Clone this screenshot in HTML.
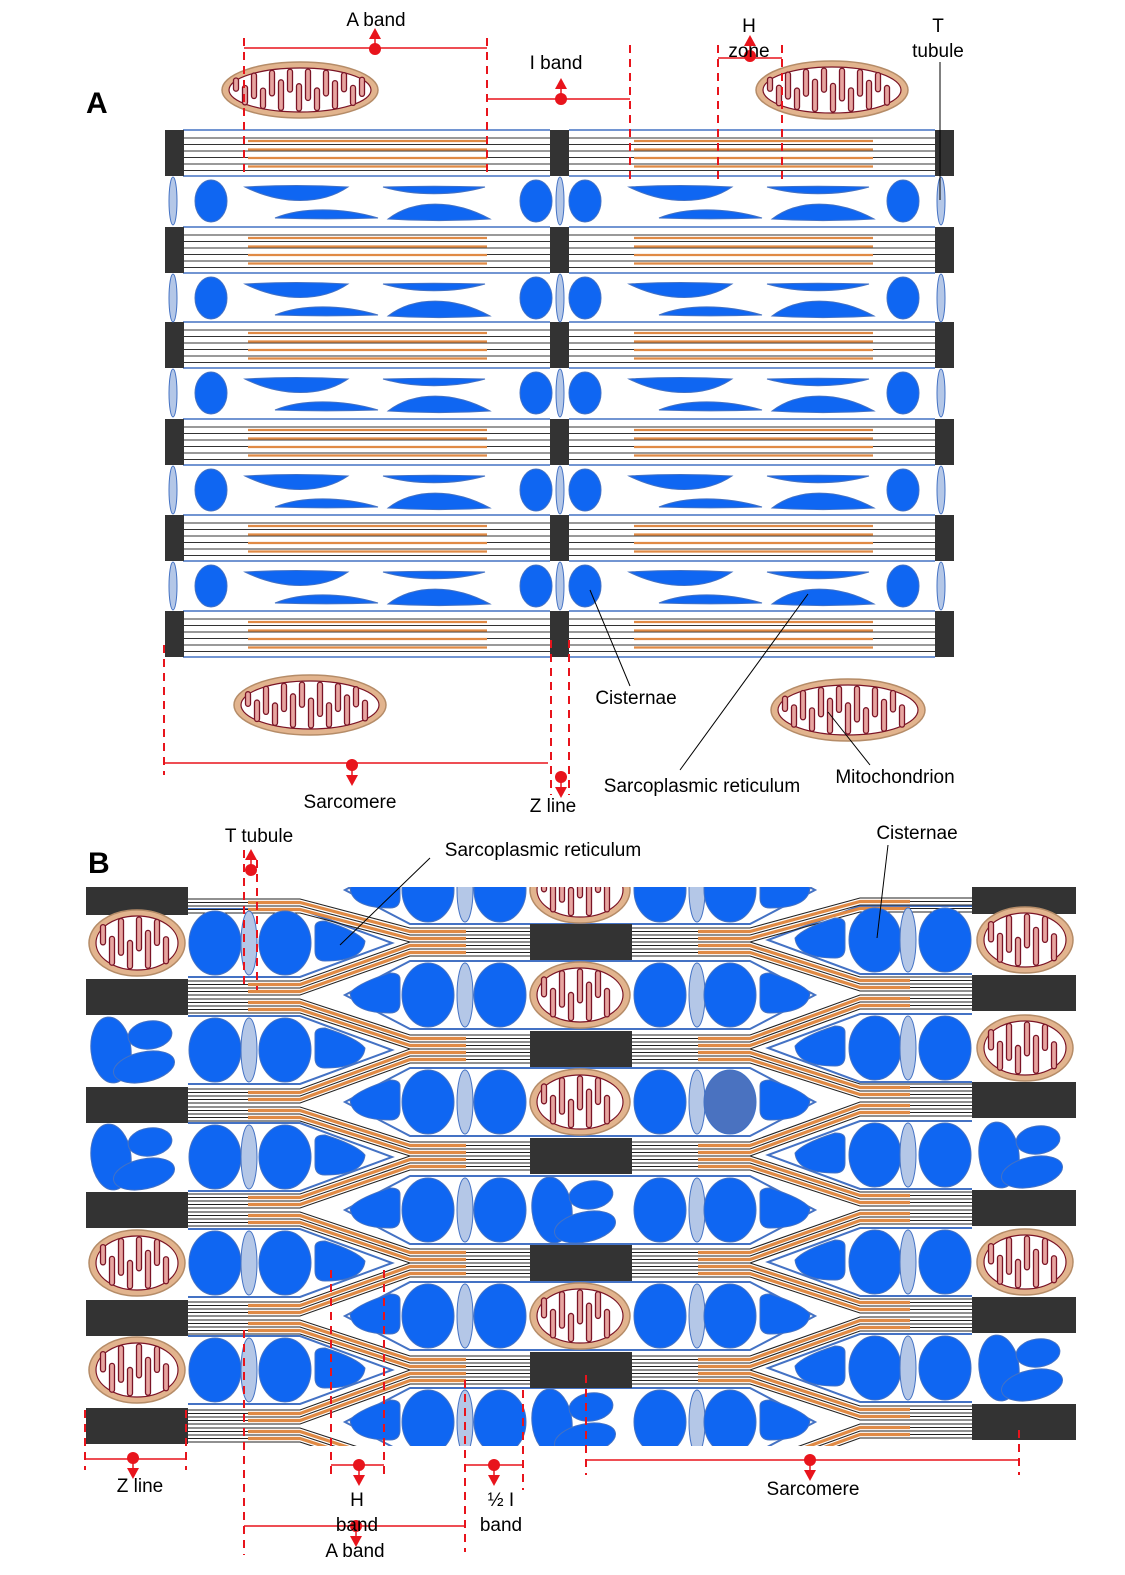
<!DOCTYPE html>
<html><head><meta charset="utf-8"><style>
html,body{margin:0;padding:0;background:#fff;}
svg{display:block;}
text{font-family:"Liberation Sans",sans-serif;font-size:19px;fill:#000;}
</style></head><body>
<svg id="s" xmlns="http://www.w3.org/2000/svg" width="1125" height="1575" viewBox="0 0 1125 1575">
<defs>
<clipPath id="cb"><rect x="86" y="887" width="990" height="559"/></clipPath>
<clipPath id="orL"><rect x="248" y="850" width="218" height="620"/></clipPath>
<clipPath id="orR"><rect x="698" y="850" width="212" height="620"/></clipPath>
</defs>
<g id="A"></g>
<g id="B" clip-path="url(#cb)"></g>
<g id="ann"></g>
<text x="86" y="113" style="font-size:30px;font-weight:bold">A</text>
<text x="88" y="873" style="font-size:30px;font-weight:bold">B</text>
<text x="376" y="26" text-anchor="middle">A band</text>
<text x="556" y="69" text-anchor="middle">I band</text>
<text x="749" y="32" text-anchor="middle">H</text>
<text x="749" y="57" text-anchor="middle">zone</text>
<text x="938" y="32" text-anchor="middle">T</text>
<text x="938" y="57" text-anchor="middle">tubule</text>
<text x="350" y="808" text-anchor="middle">Sarcomere</text>
<text x="553" y="812" text-anchor="middle">Z line</text>
<text x="636" y="704" text-anchor="middle">Cisternae</text>
<text x="702" y="792" text-anchor="middle">Sarcoplasmic reticulum</text>
<text x="895" y="783" text-anchor="middle">Mitochondrion</text>
<text x="259" y="842" text-anchor="middle">T tubule</text>
<text x="543" y="856" text-anchor="middle">Sarcoplasmic reticulum</text>
<text x="917" y="839" text-anchor="middle">Cisternae</text>
<text x="140" y="1492" text-anchor="middle">Z line</text>
<text x="357" y="1506" text-anchor="middle">H</text>
<text x="357" y="1531" text-anchor="middle">band</text>
<text x="355" y="1557" text-anchor="middle">A band</text>
<text x="501" y="1506" text-anchor="middle">½ I</text>
<text x="501" y="1531" text-anchor="middle">band</text>
<text x="813" y="1495" text-anchor="middle">Sarcomere</text>
</svg>
<script>
var NS="http://www.w3.org/2000/svg";
function el(p,t,a){var e=document.createElementNS(NS,t);for(var k in a)e.setAttribute(k,a[k]);p.appendChild(e);return e;}
var A=document.getElementById('A'),B=document.getElementById('B'),N=document.getElementById('ann');
var BLUE="#0f66f2",PALE="#b4c7e7",OUT="#4472c4",OR="#e08a45";
function mito(g,cx,cy,rx,ry){
 el(g,'ellipse',{cx:cx,cy:cy,rx:rx,ry:ry,fill:'#e2b48e',stroke:'#b58c68','stroke-width':1.5});
 el(g,'ellipse',{cx:cx,cy:cy,rx:rx-7,ry:ry-6,fill:'#fff',stroke:'#7a1426','stroke-width':1.2});
 var n=Math.floor((2*rx-20)/9);
 for(var i=0;i<n;i++){
  var x=cx-rx+14+i*9; var dx=(x-cx)/rx; var h=(ry-7)*Math.sqrt(Math.max(0,1-dx*dx));
  var top=(i%2==0); var len=h*(1.1+0.4*((i*7)%3)/2);
  var y1=top?cy-h:cy+h-len, y2=top?cy-h+len:cy+h;
  el(g,'rect',{x:x-2.5,y:y1,width:5,height:Math.max(2,y2-y1),rx:2.5,fill:'#e7a5a0',stroke:'#7a1426','stroke-width':1.3});
 }
}
function ell(g,cx,cy,rx,ry,f){el(g,'ellipse',{cx:cx,cy:cy,rx:rx,ry:ry,fill:f||BLUE,stroke:OUT,'stroke-width':1});}
function pale(g,cx,cy,rx,ry){el(g,'ellipse',{cx:cx,cy:cy,rx:rx,ry:ry,fill:PALE,stroke:OUT,'stroke-width':1});}
function spindle(g,x1,x2,y,b,pk){
 var m=x1+(x2-x1)*(pk||0.5);
 el(g,'path',{d:'M'+x1+','+y+' Q'+((x1+x2)/2)+','+(y-b*0.15)+' '+x2+','+y+' C'+(m+20)+','+(y+b*0.9)+' '+(m-20)+','+(y+b*0.9)+' '+x1+','+y+'Z',fill:BLUE,stroke:OUT,'stroke-width':1});
}
var tops=[130,227,322,419,515,611];
tops.forEach(function(t){
 [[183,550],[569,935]].forEach(function(r){
  for(var i=0;i<6;i++){var y=t+8+i*6.5;el(A,'line',{x1:r[0],y1:y,x2:r[1],y2:y,stroke:'#333','stroke-width':1.1});}
  var o1=r[0]+65;
  for(var i=0;i<4;i++){var y=t+11+i*8.5;el(A,'line',{x1:o1,y1:y,x2:o1+239,y2:y,stroke:OR,'stroke-width':2.2});}
  el(A,'line',{x1:r[0],y1:t,x2:r[1],y2:t,stroke:OUT,'stroke-width':1.5});
  el(A,'line',{x1:r[0],y1:t+46,x2:r[1],y2:t+46,stroke:OUT,'stroke-width':1.5});
 });
 [165,550,935].forEach(function(x){el(A,'rect',{x:x,y:t,width:19,height:46,fill:'#333'});});
});
for(var k=0;k<5;k++){
 var yc=tops[k]+71;
 pale(A,173,yc,4,24);ell(A,211,yc,16,21);
 ell(A,536,yc,16,21);pale(A,560,yc,4,24);ell(A,585,yc,16,21);
 ell(A,903,yc,16,21);pale(A,941,yc,4,24);
 [0,384].forEach(function(o){
  spindle(A,245+o,348+o,yc-14,20,0.55);
  spindle(A,275+o,378+o,yc+17,-12,0.45);
  spindle(A,383+o,485+o,yc-14,10,0.5);
  spindle(A,388+o,490+o,yc+18,-22,0.45);
 });
}
mito(A,300,90,78,28);mito(A,832,90,76,29);mito(A,310,705,76,30);mito(A,848,710,77,31);
var yL=[897,997,1105,1210,1318,1426],yM=[836,942,1049,1156,1263,1370,1478],yR=[896,993,1100,1208,1315,1422];
function bundle(side,yz,ym,up){
 var s=up?-1:1;
 for(var i=0;i<5;i++){
  var o=2+i*3.5, a=yz+s*o, b=ym-s*(16-o);
  var pts=side=='L'?[[188,a],[300,a],[410,b],[530,b]]:[[972,a],[860,a],[750,b],[632,b]];
  var p=pts.map(function(q){return q.join(',');}).join(' ');
  el(B,'polyline',{points:p,fill:'none',stroke:'#222','stroke-width':1.1});
  if(i%2==1){el(B,'polyline',{points:p,fill:'none',stroke:OR,'stroke-width':3.2,'clip-path':'url(#or'+side+')'});}
 }
}
function rel(g,cx,cy,rx,ry,rot){el(g,'ellipse',{cx:cx,cy:cy,rx:rx,ry:ry,transform:'rotate('+rot+' '+cx+' '+cy+')',fill:BLUE,stroke:OUT,'stroke-width':1});}
function cluster(g,cx,cy){
 rel(g,cx-26,cy,20,33,-6);
 rel(g,cx+13,cy-15,22,14,-8);
 rel(g,cx+7,cy+17,31,15,-12);
}
function tri(g,x1,x2,cy,right){
 var d=right?'M'+x1+','+(cy-16)+' Q'+x1+','+(cy-22)+' '+(x1+10)+','+(cy-22)+' Q'+(x2-8)+','+(cy-12)+' '+x2+','+(cy-2)+' Q'+(x2-2)+','+(cy+18)+' '+(x1+10)+','+(cy+18)+' Q'+x1+','+(cy+18)+' '+x1+','+(cy+8)+'Z'
 :'M'+x2+','+(cy-16)+' Q'+x2+','+(cy-22)+' '+(x2-10)+','+(cy-22)+' Q'+(x1+8)+','+(cy-12)+' '+x1+','+(cy-2)+' Q'+(x1+2)+','+(cy+18)+' '+(x2-10)+','+(cy+18)+' Q'+x2+','+(cy+18)+' '+x2+','+(cy+8)+'Z';
 el(g,'path',{d:d,fill:BLUE,stroke:OUT,'stroke-width':1});
}
var cellsL=[[943,'m'],[1050,'c'],[1157,'c'],[1263,'m'],[1370,'m']];
var cellsR=[[940,'m'],[1048,'m'],[1155,'c'],[1262,'m'],[1368,'c']];
var cellsM=[[890,'m'],[995,'m'],[1102,'m'],[1210,'c'],[1316,'m'],[1422,'c']];
cellsL.forEach(function(c){var y=c[0];el(B,'polyline',{points:'188,'+(y-34)+' 300,'+(y-34)+' 392,'+y+' 300,'+(y+34)+' 188,'+(y+34),fill:'none',stroke:OUT,'stroke-width':2});});
cellsR.forEach(function(c){var y=c[0];el(B,'polyline',{points:'972,'+(y-34)+' 860,'+(y-34)+' 768,'+y+' 860,'+(y+34)+' 972,'+(y+34),fill:'none',stroke:OUT,'stroke-width':2});});
cellsM.forEach(function(c){var y=c[0];el(B,'polygon',{points:'410,'+(y-34)+' 750,'+(y-34)+' 815,'+y+' 750,'+(y+34)+' 410,'+(y+34)+' 345,'+y,fill:'none',stroke:OUT,'stroke-width':2});});
for(var i=0;i<6;i++){
 if(i>0)bundle('L',yL[i],yM[i],true);
 bundle('L',yL[i],yM[i+1],false);
 if(i>0)bundle('R',yR[i],yM[i],true);
 bundle('R',yR[i],yM[i+1],false);
}
yL.forEach(function(y){el(B,'rect',{x:86,y:y-18,width:102,height:36,fill:'#333'});});
yR.forEach(function(y){el(B,'rect',{x:972,y:y-18,width:104,height:36,fill:'#333'});});
yM.forEach(function(y){el(B,'rect',{x:530,y:y-18,width:102,height:36,fill:'#333'});});
cellsL.forEach(function(c){var y=c[0];
 if(c[1]=='m')mito(B,137,y,48,33);else cluster(B,137,y);
 ell(B,215,y,26,32);pale(B,249,y,8,32);ell(B,285,y,26,32);tri(B,315,365,y,true);
});
cellsR.forEach(function(c){var y=c[0];
 if(c[1]=='m')mito(B,1025,y,48,33);else cluster(B,1025,y);
 tri(B,795,845,y,false);ell(B,875,y,26,32);pale(B,908,y,8,32);ell(B,945,y,26,32);
});
cellsM.forEach(function(c,j){var y=c[0];
 tri(B,350,400,y,false);ell(B,428,y,26,32);pale(B,465,y,8,32);ell(B,500,y,26,32);
 if(c[1]=='m')mito(B,580,y,50,33);else cluster(B,578,y);
 ell(B,660,y,26,32);pale(B,697,y,8,32);ell(B,730,y,26,32,j==2?'#4a72c0':BLUE);tri(B,760,810,y,true);
});
var R='#e8141c';
function dash(x,y1,y2){el(N,'line',{x1:x,y1:y1,x2:x,y2:y2,stroke:R,'stroke-width':2,'stroke-dasharray':'8,6'});}
function hl(x1,x2,y){el(N,'line',{x1:x1,y1:y,x2:x2,y2:y,stroke:R,'stroke-width':1.5});}
function marker(x,y,up){el(N,'circle',{cx:x,cy:y,r:6,fill:R});
 if(up){el(N,'line',{x1:x,y1:y,x2:x,y2:y-12,stroke:R,'stroke-width':1.5});el(N,'path',{d:'M'+(x-6)+','+(y-10)+' L'+(x+6)+','+(y-10)+' L'+x+','+(y-21)+'Z',fill:R});}
 else{el(N,'line',{x1:x,y1:y,x2:x,y2:y+12,stroke:R,'stroke-width':1.5});el(N,'path',{d:'M'+(x-6)+','+(y+10)+' L'+(x+6)+','+(y+10)+' L'+x+','+(y+21)+'Z',fill:R});}}
function bl(x1,y1,x2,y2){el(N,'line',{x1:x1,y1:y1,x2:x2,y2:y2,stroke:'#000','stroke-width':1});}
dash(244,38,178);dash(487,38,178);dash(630,45,180);dash(718,45,180);dash(782,45,180);
hl(244,487,48);marker(375,49,true);
hl(487,630,99);marker(561,99,true);
hl(718,782,58);marker(750,56,true);
bl(940,62,940,200);
dash(164,645,775);hl(164,548,763);marker(352,765,false);
dash(551,640,795);dash(569,640,795);marker(561,777,false);
bl(590,590,630,686);bl(808,594,680,770);bl(828,712,870,765);
dash(244,850,990);dash(257,860,990);marker(251,870,true);
bl(430,858,340,945);bl(888,845,877,938);
dash(85,1410,1470);dash(186,1410,1470);hl(85,186,1459);marker(133,1458,false);
dash(244,1330,1555);dash(465,1380,1552);hl(244,465,1526);marker(356,1526,false);
dash(331,1270,1480);dash(384,1270,1478);hl(331,384,1465);marker(359,1465,false);
dash(523,1390,1490);hl(465,523,1465);marker(494,1465,false);
dash(586,1375,1475);dash(1019,1430,1475);hl(586,1019,1460);marker(810,1460,false);
</script>
</body></html>
